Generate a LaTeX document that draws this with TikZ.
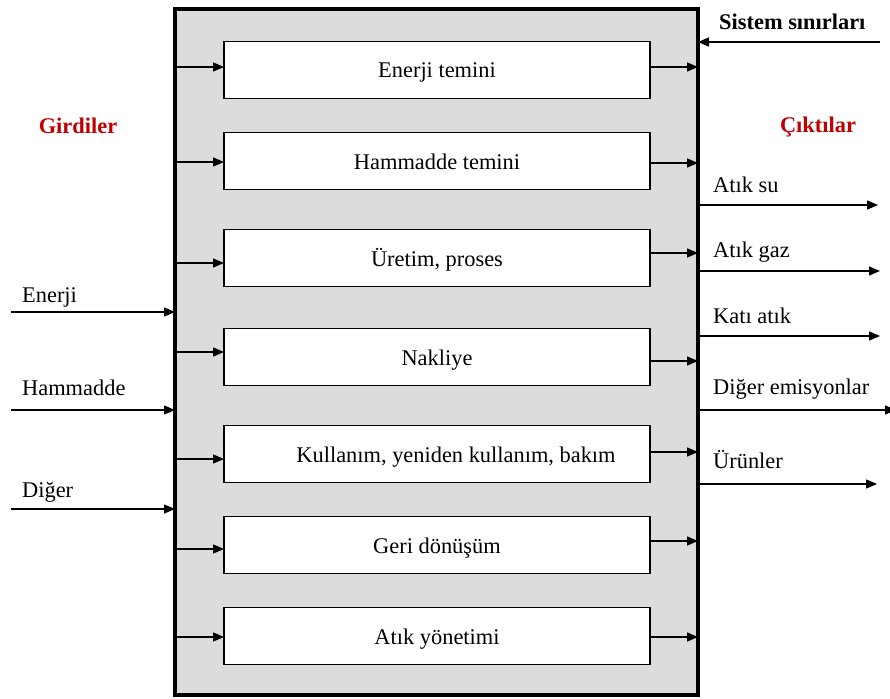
\documentclass[tikz,border=0pt]{standalone}
\usepackage{fontspec}
\setmainfont{Liberation Serif}
\usetikzlibrary{arrows.meta}
\definecolor{sysgray}{HTML}{DCDCDC}
\definecolor{labred}{HTML}{C00000}
\begin{document}
\begin{tikzpicture}[x=1pt,y=-1pt,
  txt/.style={font=\fontsize{22.4}{25}\selectfont, inner sep=0pt, anchor=base west},
  head/.style={font=\fontsize{22.4}{25}\selectfont\bfseries, inner sep=0pt},
  stage/.style={draw, line width=1.4pt, fill=white, minimum width=426pt, minimum height=57pt,
    inner sep=0pt, outer sep=0pt, text height=20pt, text depth=4pt,
    font=\fontsize{22.4}{25}\selectfont},
  arr/.style={line width=1.4pt, -{Triangle[length=11pt,width=9pt]}}]
\useasboundingbox (0,0) rectangle (890,698);

% system boundary
\node[draw, line width=4pt, fill=sysgray, minimum width=523pt, minimum height=686pt,
  inner sep=0pt, outer sep=0pt] (sys) at (436.5,352) {};

% life-cycle stages
\node[stage] (b1) at (437,70)  {Enerji temini};
\node[stage] (b2) at (437,161) {Hammadde temini};
\node[stage] (b3) at (437,258) {Üretim, proses};
\node[stage] (b4) at (437,357) {Nakliye};
\node[stage] (b5) at (437,454) {\hspace*{38pt}Kullanım, yeniden kullanım, bakım};
\node[stage] (b6) at (437,545) {Geri dönüşüm};
\node[stage] (b7) at (437,636) {Atık yönetimi};

% flows into each stage
\foreach \b/\dy in {b1/-3, b2/1, b3/5, b4/-5, b5/5, b6/4, b7/1}
  \draw[arr] ([yshift=-\dy pt]\b.west -| sys.west) -- ([yshift=-\dy pt]\b.west);
% flows out of each stage
\foreach \b/\dy in {b1/-3, b2/2, b3/-5, b4/4, b5/-2, b6/-4, b7/1}
  \draw[arr] ([yshift=-\dy pt]\b.east) -- ([yshift=-\dy pt]\b.east -| sys.east);

% headings
\node[head, text=labred] (gird) at (78,126) {Girdiler};
\node[head, text=labred] (cikt) at (818,127) {Çıktılar};
\node[head, anchor=base west] (sinir) at (719,30) {Sistem sınırları};
\coordinate (sinirS) at (880,42);
\draw[arr] (sinirS) -- (sinirS -| sys.east);

% inputs
\coordinate (inA) at (11,312);
\coordinate (inB) at (11,410);
\coordinate (inC) at (11,509);
\draw[arr] (inA) -- (inA -| sys.west);
\draw[arr] (inB) -- (inB -| sys.west);
\draw[arr] (inC) -- (inC -| sys.west);
\node[txt] (tA) at (22,302) {Enerji};
\node[txt] (tB) at (22,395) {Hammadde};
\node[txt] (tC) at (22,497) {Diğer};

% outputs
\coordinate (outA) at (878,205);
\coordinate (outB) at (880,271);
\coordinate (outC) at (880,336);
\coordinate (outD) at (896,410);
\coordinate (outE) at (877,484);
\foreach \o in {outA,outB,outC,outD,outE}
  \draw[arr] (\o -| sys.east) -- (\o);
\node[txt] (oA) at (713,192) {Atık su};
\node[txt] (oB) at (713,257) {Atık gaz};
\node[txt] (oC) at (713,323) {Katı atık};
\node[txt] (oD) at (713,394) {Diğer emisyonlar};
\node[txt] (oE) at (713,468) {Ürünler};
\end{tikzpicture}
\end{document}
